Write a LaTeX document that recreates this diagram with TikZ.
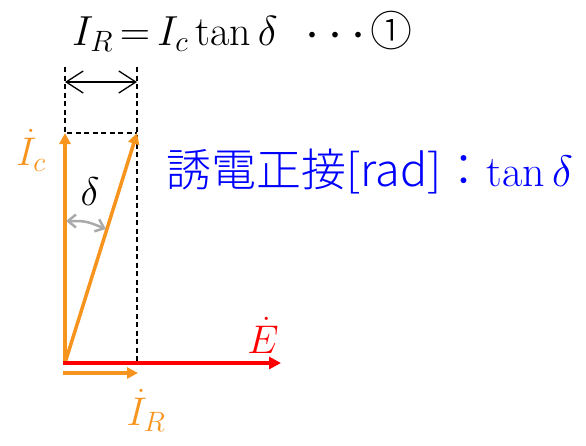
\documentclass[tikz,border=0pt]{standalone}
\usepackage{fix-cm}
\usepackage{fontspec}
\newfontfamily\cjk{Noto Sans CJK JP}[UprightFont={* Light}]
\usetikzlibrary{arrows.meta}
\definecolor{vorange}{RGB}{247,148,29}
\definecolor{vred}{RGB}{255,0,0}
\definecolor{vblue}{RGB}{0,0,255}
\definecolor{vgray}{RGB}{170,170,170}
\begin{document}
\begin{tikzpicture}[x=1pt,y=-1pt,
  big/.style={font=\fontsize{40}{48}\selectfont, inner sep=0pt},
  formulafont/.style={font=\fontsize{42}{48}\selectfont, inner sep=0pt},
  cjkbig/.style={font=\fontsize{45}{52}\selectfont\cjk, inner sep=0pt},
  orangevec/.style={draw=vorange, line width=3.5pt, -{Triangle[length=11pt,width=11pt]}},
  redvec/.style={draw=vred, line width=4.5pt, -{Triangle[length=12pt,width=12pt]}},
  dashline/.style={draw=black, line width=1.6pt, dash pattern=on 5pt off 3.5pt},
  widtharrow/.style={draw=black, line width=1.3pt, {Straight Barb[length=17pt,width=22pt]}-{Straight Barb[length=17pt,width=22pt]}},
  anglearrow/.style={draw=vgray, line width=2.5pt, {Straight Barb[length=8pt,width=13pt]}-{Straight Barb[length=8pt,width=13pt]}}
]
\useasboundingbox (0,0) rectangle (586,445);
\coordinate (O) at (65,363);
\coordinate (Ctip) at (65,133);
\coordinate (Dtip) at (137,133);
\coordinate (Etip) at (281,363);
\coordinate (RS) at (63,373);
\coordinate (RT) at (138,373);
\coordinate (TL) at (65,67);
\coordinate (TR) at (137,67);
\coordinate (BR) at (137,362);
\coordinate (WL) at (65,82);
\coordinate (WR) at (137,82);
\coordinate (AL) at (66,221);
\coordinate (AR) at (106,229);
% dashed construction lines
\draw[dashline] (TL) -- (Ctip) -- (Dtip);
\draw[dashline] (TR) -- (BR);
\draw[widtharrow] (WL) -- (WR);
% vectors
\draw[orangevec] (O) -- (Ctip);
\draw[orangevec] (O) -- (Dtip);
\draw[redvec] (63,363) -- (Etip);
\draw[orangevec] (RS) -- (RT);
\draw[anglearrow] (AL) .. controls (86,221) .. (AR);
% labels
\node[formulafont, anchor=base west] (formula) at (72,45) {$I_R\mkern-2mu=\mkern-2mu I_c\tan\delta$};
\node[cjkbig, anchor=base west] (dots) at (301,46) {{\fontsize{30}{36}\selectfont\makebox[23pt]{・}\makebox[23pt]{・}\makebox[23pt]{・}}\fontsize{42}{48}\selectfont①};
\node[big, text=vorange] (Ic) at (31,150) {$\dot{I}_c$};
\node[big] (delta) at (90,192) {$\delta$};
\node[big, text=vred] (E) at (263,335) {$\dot{E}$};
\node[big, text=vorange] (IR) at (146,410) {$\dot{I}_R$};
\node[cjkbig, text=vblue, anchor=base west] (tand) at (166,186) {誘電正接[rad]：{\fontsize{44}{48}\selectfont\rmfamily tan\,$\delta$}};
\end{tikzpicture}
\end{document}
